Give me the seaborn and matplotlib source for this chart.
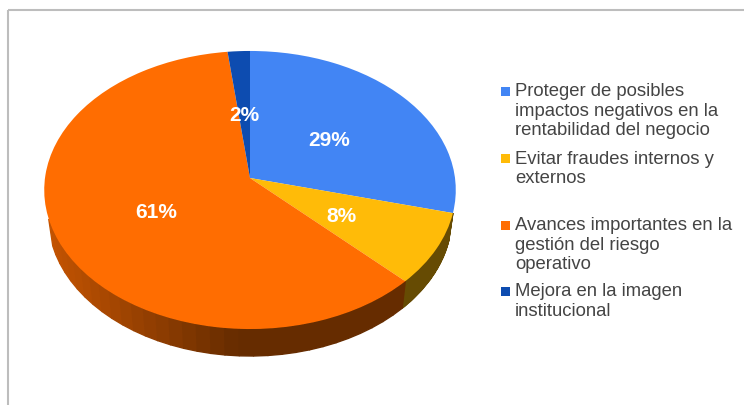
import numpy as np
import seaborn as sns
import matplotlib
matplotlib.use('Agg')
import matplotlib.pyplot as plt
from matplotlib.patches import Rectangle
from matplotlib.transforms import Affine2D, Transform

categorias = ['Proteger de posibles\nimpactos negativos en la\nrentabilidad del negocio',
              'Evitar fraudes internos y\nexternos',
              'Avances importantes en la\ngestión del riesgo\noperativo',
              'Mejora en la imagen\ninstitucional']
valores = [29.0, 8.4, 60.7, 1.9]
colores = ['#4285f4', '#ffbb08', '#ff6d01', '#0d4cb0']

sns.set_theme(style='white')
plt.rcParams['font.family'] = ['Liberation Sans', 'DejaVu Sans']


# Perspectiva: lleva el disco unidad a los pixeles de la imagen
def proyectar(xy):
    xy = np.asarray(xy, dtype=float).reshape(-1, 2)
    w = 1 + 0.0863 * xy[:, 1]
    return np.column_stack([250 + 205 * xy[:, 0] / w, 178 - 138 * xy[:, 1] / w])


class Perspectiva(Transform):
    input_dims = 2
    output_dims = 2
    is_separable = False
    has_inverse = False

    def transform_non_affine(self, values):
        return proyectar(values)


fig, ax = plt.subplots(figsize=(7.44, 4.05), dpi=100)
fig.subplots_adjust(left=0, right=1, bottom=0, top=1)

wedges, texts, autotexts = ax.pie(valores, colors=sns.color_palette(colores), startangle=90,
                                  counterclock=False, autopct='%.0f%%', pctdistance=0.5,
                                  wedgeprops={'linewidth': 0})
ax.set_aspect('auto')
ax.set_xlim(0, 744)
ax.set_ylim(405, 0)
ax.axis('off')

trans = Perspectiva() + ax.transData

# Pared lateral del pastel (solo la parte de delante)
for w, color in zip(wedges, colores):
    base = np.array(matplotlib.colors.to_rgb(color))
    t = np.radians(np.linspace(w.theta1, w.theta2, 60))
    borde = proyectar(np.column_stack([np.cos(t), np.sin(t)]))
    abajo = np.column_stack([250 + (borde[:, 0] - 250) * 0.98, borde[:, 1] + 27])
    for i in range(len(t) - 1):
        if borde[i, 1] < 213 or borde[i + 1, 1] < 213:
            continue
        f = np.interp(borde[i, 0], [50, 230], [0.76, 0.40])
        ax.fill([borde[i, 0], borde[i + 1, 0], abajo[i + 1, 0], abajo[i, 0]],
                [borde[i, 1], borde[i + 1, 1], abajo[i + 1, 1], abajo[i, 1]],
                color=base * f, lw=1.0, zorder=1)

for w in wedges:
    w.set_transform(trans)
    w.set_zorder(2)

for t in autotexts:
    t.set_transform(trans + Affine2D().translate(0, -3.5))
    t.set_color('white')
    t.set_fontsize(15)
    t.set_fontweight('bold')
    t.set_zorder(3)

# Leyenda
for cat, color, y in zip(categorias, colores, [91, 158.5, 225, 291]):
    ax.add_patch(Rectangle((501, y - 4.5), 9, 9, color=color, lw=0, zorder=3))
    ax.text(515, y - 7.5, cat, fontsize=13.3, color='#444444', va='top', ha='left', linespacing=1.165)

# Marco
ax.add_patch(Rectangle((8, 10), 760, 420, fill=False, edgecolor='#bdbdbd', lw=1.5, zorder=0))

fig.savefig('out.png', dpi=100)
